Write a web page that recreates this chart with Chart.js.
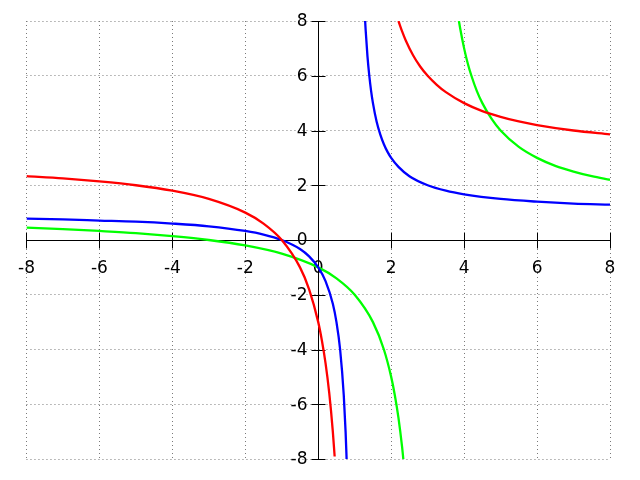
<!DOCTYPE html>
<html>
<head>
<meta charset="utf-8">
<script src="https://cdn.jsdelivr.net/npm/chart.js@4/dist/chart.umd.min.js"></script>
<style>
  html, body { margin: 0; padding: 0; background: #fff; }
  canvas { display: block; }
</style>
</head>
<body>
<canvas id="chart" width="640" height="480"></canvas>
<script>
// values, one pair of arrays per curve branch
const redLeftX  = [-8, -7, -6, -5, -4, -3, -2, -1.5, -1, -0.5, -0.25, 0, 0.1, 0.2, 0.3, 0.4, 0.45];
const redLeftY  = [2.33, 2.25, 2.14, 2.0, 1.8, 1.5, 1.0, 0.6, 0, -1, -1.8, -3, -3.67, -4.5, -5.57, -7, -7.91];
const redRightX = [2.2, 2.3, 2.4, 2.6, 2.8, 3, 3.25, 3.5, 4, 4.5, 5, 5.5, 6, 7, 8];
const redRightY = [8.0, 7.62, 7.29, 6.75, 6.33, 6.0, 5.67, 5.4, 5.0, 4.71, 4.5, 4.33, 4.2, 4.0, 3.86];

const blueLeftX  = [-8, -7, -6, -5, -4, -3, -2, -1.5, -1, -0.5, -0.25, 0, 0.2, 0.4, 0.5, 0.6, 0.7, 0.75, 0.778];
const blueLeftY  = [0.78, 0.75, 0.71, 0.67, 0.6, 0.5, 0.33, 0.2, 0, -0.33, -0.6, -1, -1.5, -2.33, -3, -4, -5.67, -7, -8];
const blueRightX = [1.286, 1.3, 1.35, 1.4, 1.45, 1.5, 1.6, 1.7, 1.8, 1.9, 2, 2.2, 2.5, 3, 3.5, 4, 5, 6, 7, 8];
const blueRightY = [8.0, 7.67, 6.71, 6.0, 5.44, 5.0, 4.33, 3.86, 3.5, 3.22, 3.0, 2.67, 2.33, 2.0, 1.8, 1.67, 1.5, 1.4, 1.33, 1.29];

const greenLeftX  = [-8, -7, -6, -5, -4, -3, -2, -1, 0, 0.5, 1, 1.5, 1.8, 2, 2.1, 2.2, 2.3, 2.333];
const greenLeftY  = [0.45, 0.4, 0.33, 0.25, 0.14, 0, -0.2, -0.5, -1, -1.4, -2, -3, -4, -5, -5.67, -6.5, -7.57, -8];
const greenRightX = [3.857, 3.9, 4, 4.1, 4.2, 4.35, 4.5, 4.75, 5, 5.5, 6, 6.5, 7, 7.5, 8];
const greenRightY = [8.0, 7.67, 7.0, 6.45, 6.0, 5.44, 5.0, 4.43, 4.0, 3.4, 3.0, 2.71, 2.5, 2.33, 2.2];

const tickValues = [-8, -6, -4, -2, 0, 2, 4, 6, 8];

function pairs(xs, ys) {
    return xs.map((x, i) => ({ x: x, y: ys[i] }));
}

function branch(xs, ys, color) {
    return {
        data: pairs(xs, ys),
        borderColor: color,
        backgroundColor: color,
        borderWidth: 2.3,
        showLine: true,
        pointRadius: 0,
        cubicInterpolationMode: 'monotone',
        fill: false
    };
}

const tickFont = { family: 'DejaVu Sans', size: 17 };

// short black ticks crossing both axes, and y labels on the left of the y axis
const crossTicks = {
    id: 'crossTicks',
    beforeDatasetsDraw(chart) {
        const { ctx, scales: { x, y } } = chart;
        const x0 = Math.round(x.getPixelForValue(0)) + 0.5;
        const y0 = Math.round(y.getPixelForValue(0)) + 0.5;
        ctx.save();
        ctx.strokeStyle = '#000';
        ctx.lineWidth = 1;
        ctx.beginPath();
        tickValues.forEach(v => {
            const px = Math.round(x.getPixelForValue(v)) + 0.5;
            ctx.moveTo(px, y0 - 8);
            ctx.lineTo(px, y0 + 8);
            const py = Math.round(y.getPixelForValue(v)) + 0.5;
            ctx.moveTo(x0 - 7, py);
            ctx.lineTo(x0 + 7, py);
        });
        ctx.stroke();

        ctx.fillStyle = '#000';
        ctx.font = tickFont.size + 'px "' + tickFont.family + '"';
        ctx.textAlign = 'right';
        ctx.textBaseline = 'middle';
        tickValues.forEach(v => {
            ctx.fillText(String(v), x0 - 11, y.getPixelForValue(v) + 1);
        });
        ctx.restore();
    }
};

const gridOpts = { color: '#7a7a7a', lineWidth: 1, drawTicks: false };

new Chart(document.getElementById('chart'), {
    type: 'scatter',
    data: {
        datasets: [
            branch(redLeftX, redLeftY, '#ff0000'),
            branch(redRightX, redRightY, '#ff0000'),
            branch(blueLeftX, blueLeftY, '#0000ff'),
            branch(blueRightX, blueRightY, '#0000ff'),
            branch(greenLeftX, greenLeftY, '#00ff00'),
            branch(greenRightX, greenRightY, '#00ff00')
        ]
    },
    options: {
        responsive: false,
        animation: false,
        devicePixelRatio: 1,
        layout: { padding: { left: 25, right: 30, top: 21, bottom: 21 } },
        plugins: {
            legend: { display: false },
            tooltip: { enabled: false }
        },
        scales: {
            x: {
                type: 'linear',
                position: { y: 0 },
                min: -8,
                max: 8,
                afterBuildTicks: axis => { axis.ticks = tickValues.map(v => ({ value: v })); },
                ticks: { color: '#000', font: tickFont, padding: 18, maxRotation: 0, autoSkip: false },
                grid: gridOpts,
                border: { display: true, color: '#000', width: 1, dash: [1, 3] }
            },
            y: {
                type: 'linear',
                position: { x: 0 },
                min: -8,
                max: 8,
                afterBuildTicks: axis => { axis.ticks = tickValues.map(v => ({ value: v })); },
                ticks: { display: false },
                grid: gridOpts,
                border: { display: true, color: '#000', width: 1, dash: [1, 3] }
            }
        }
    },
    plugins: [crossTicks]
});
</script>
</body>
</html>
